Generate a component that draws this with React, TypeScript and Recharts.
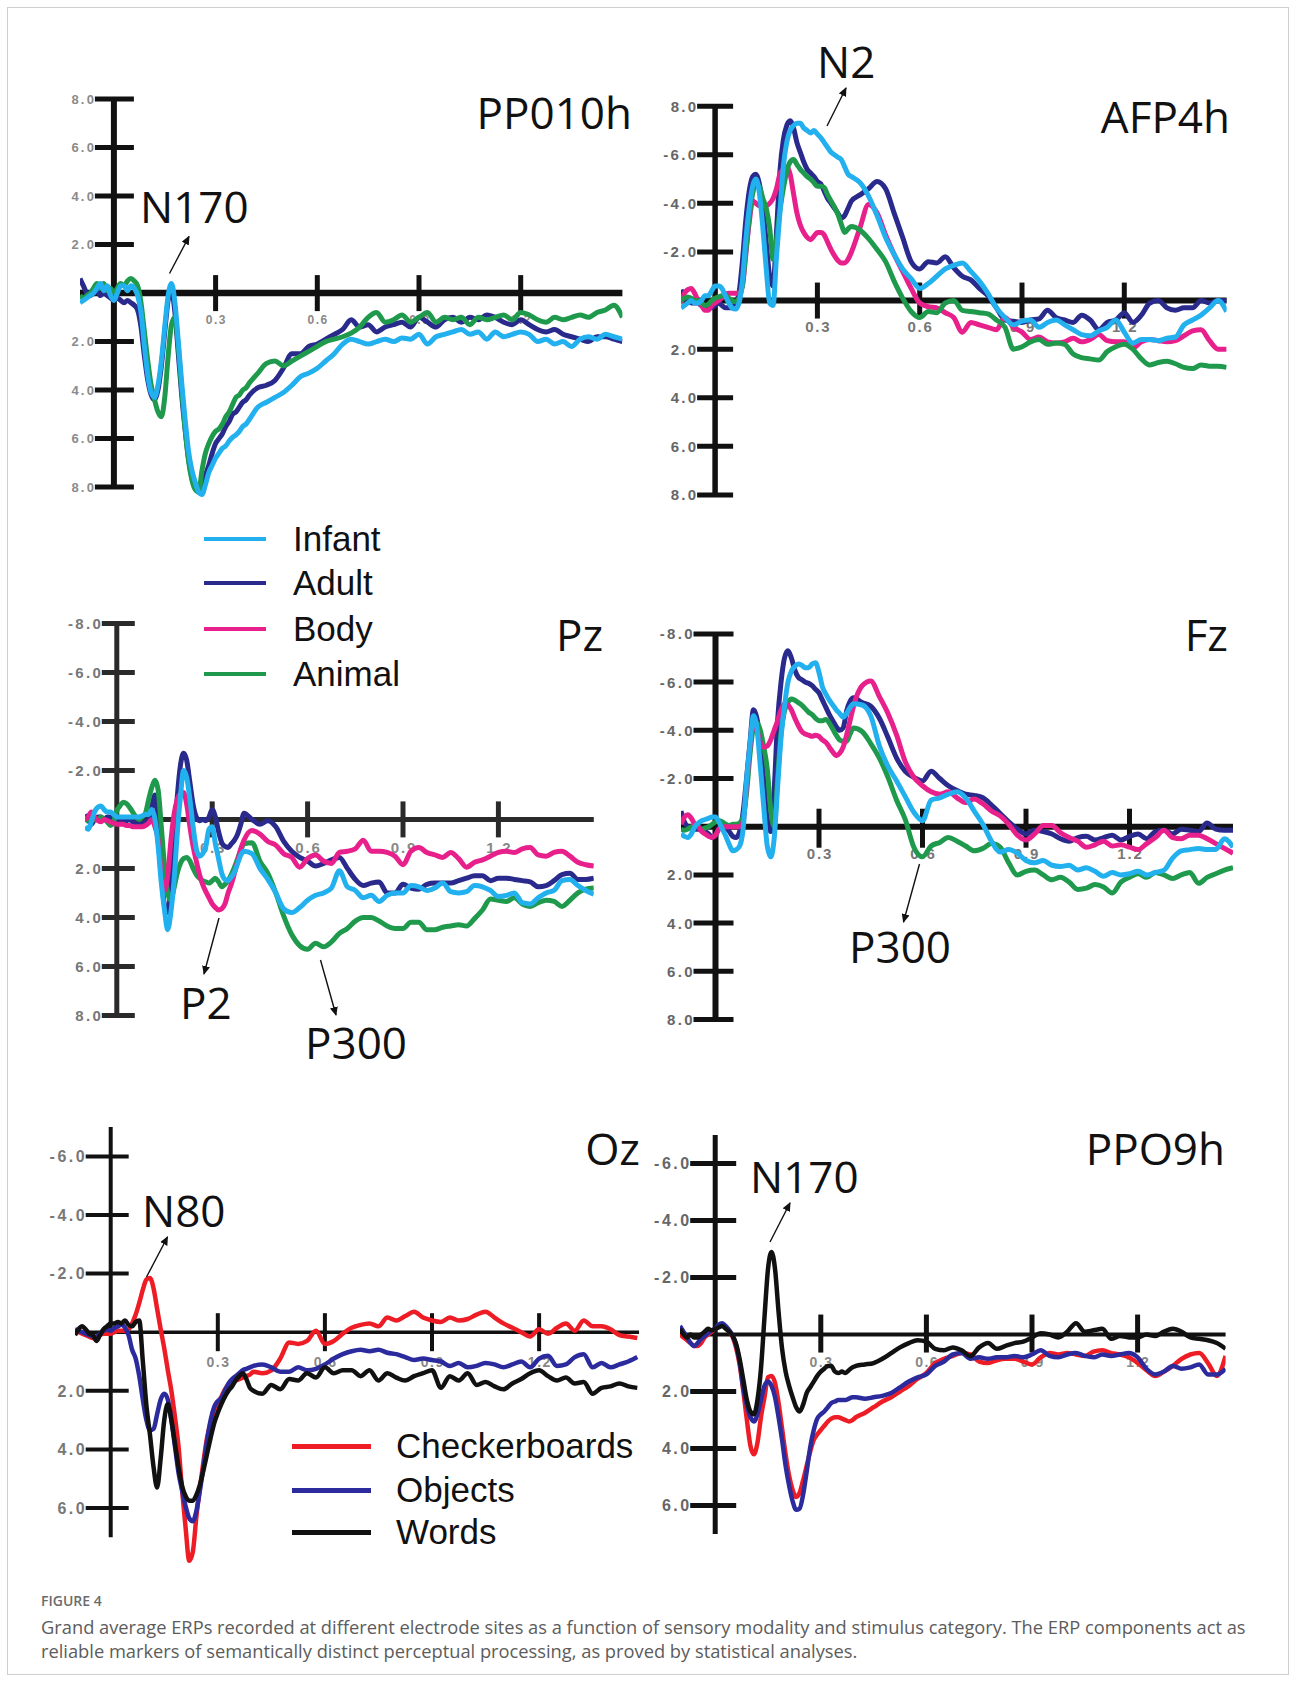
import React from "react";
import { LineChart, Line, XAxis, YAxis, ReferenceLine, ReferenceDot } from "recharts";

// sample times in seconds: 10 ms steps up to 0.4 s, 25 ms steps after
const TIME = [
  -0.1, -0.09, -0.08, -0.07, -0.06, -0.05, -0.04, -0.03, -0.02, -0.01,
  0, 0.01, 0.02, 0.03, 0.04, 0.05, 0.06, 0.07, 0.08, 0.09,
  0.1, 0.11, 0.12, 0.13, 0.14, 0.15, 0.16, 0.17, 0.18, 0.19,
  0.2, 0.21, 0.22, 0.23, 0.24, 0.25, 0.26, 0.27, 0.28, 0.29,
  0.3, 0.31, 0.32, 0.33, 0.34, 0.35, 0.36, 0.37, 0.38, 0.39,
  0.4,
  0.425, 0.45, 0.475, 0.5, 0.525, 0.55, 0.575, 0.6,
  0.625, 0.65, 0.675, 0.7, 0.725, 0.75, 0.775, 0.8,
  0.825, 0.85, 0.875, 0.9, 0.925, 0.95, 0.975, 1.0,
  1.025, 1.05, 1.075, 1.1, 1.125, 1.15, 1.175, 1.2,
  1.225, 1.25, 1.275, 1.3, 1.325, 1.35, 1.375, 1.4,
  1.425, 1.45, 1.475, 1.5, 1.525,
];

// amplitudes in µV (negative plotted upwards)
const PP010H_INFANT = [
  0.4, 0.3, 0.2, 0.1, 0.0, -0.2, -0.4, -0.1, -0.3, 0.1,
  0.3, 0.0, -0.3, -0.3, -0.1, -0.3, -0.2, 0.1, 0.8, 2.2,
  3.4, 4.1, 4.3, 3.8, 2.8, 1.4, 0.1, -0.4, 0.4, 2.0,
  3.7, 5.2, 6.5, 7.3, 7.8, 8.2, 8.3, 7.9, 7.4, 7.1,
  6.8, 6.6, 6.4, 6.3, 6.1, 5.95, 5.85, 5.7, 5.5, 5.4,
  5.2,
  4.7, 4.5, 4.3, 4.1, 3.8, 3.45, 3.3, 3.1,
  2.8, 2.5, 2.1, 1.9, 2.0, 2.1, 2.0, 1.9,
  2.0, 1.85, 1.9, 1.7, 2.1, 1.8, 1.7, 1.6,
  1.5, 1.7, 1.6, 1.9, 1.6, 1.8, 1.7, 1.6,
  1.7, 2.0, 1.9, 2.1, 2.0, 2.2, 1.9, 1.8,
  1.9, 1.7, 1.8, 1.9, 2.0,
];
const PP010H_ADULT = [
  -0.6, -0.3, 0.0, 0.1, 0.0, -0.1, 0.1, 0.0, 0.1, 0.2,
  0.3, 0.2, 0.3, 0.4, 0.3, 0.4, 0.5, 0.7, 1.4, 2.6,
  3.6, 4.2, 4.4, 4.0, 3.0, 1.6, 0.3, -0.1, 0.8, 2.5,
  4.2, 5.6, 6.8, 7.6, 8.0, 8.2, 8.0, 7.5, 7.1, 6.6,
  6.2, 6.0, 5.8, 5.5, 5.3, 5.0, 4.9, 4.7, 4.5, 4.4,
  4.2,
  3.9, 3.8, 3.6, 3.1, 2.5, 2.5, 2.2, 2.1,
  1.9, 1.7, 1.5, 1.1, 1.4, 1.3, 1.6, 1.4,
  1.3, 1.2, 1.4, 1.0, 1.2, 1.4, 1.1, 1.0,
  1.2, 1.0, 1.1, 0.9, 1.0, 1.2, 1.3, 1.1,
  1.3, 1.5, 1.6, 1.5, 1.7, 1.8, 1.9, 2.0,
  1.8, 1.8, 1.9, 2.0, 2.0,
];
const PP010H_ANIMAL = [
  0.1, 0.2, 0.1, 0.0, -0.2, -0.4, -0.2, -0.4, -0.1, -0.2,
  0.0, -0.2, -0.4, -0.3, -0.5, -0.6, -0.5, -0.3, 0.4, 1.6,
  2.8, 3.8, 4.4, 4.9, 5.1, 4.3, 2.6, 1.3, 1.0, 2.2,
  4.0, 5.6, 6.9, 7.7, 8.1, 8.2, 7.3, 6.6, 6.2, 5.9,
  5.7, 5.6, 5.4, 5.1, 4.9, 4.6, 4.3, 4.2, 4.0, 3.9,
  3.7,
  3.3, 2.9, 2.8, 3.0, 2.8, 2.6, 2.4, 2.2,
  2.0, 1.9, 1.8, 1.65, 1.4, 1.0, 0.8, 1.2,
  1.1, 0.9, 1.2, 1.0, 0.8, 1.2, 1.0, 1.1,
  1.0, 1.3, 1.0, 1.1, 1.0, 0.9, 1.1, 0.8,
  0.9, 1.1, 1.2, 1.0, 1.1, 1.0, 0.9, 1.0,
  0.8, 0.7, 0.5, 1.0, 1.1,
];

const AFP4H_INFANT = [
  0.3, 0.2, 0.1, 0.0, 0.1, 0.1, 0.0, -0.2, -0.2, -0.4,
  -0.6, -0.6, -0.5, -0.2, 0.1, 0.3, 0.35, 0.1, -0.8, -2.5,
  -3.8, -4.7, -5.0, -4.4, -3.0, -1.3, 0.1, 0.2, -1.8, -3.6,
  -5.5, -6.5, -7.0, -7.2, -7.3, -7.3, -7.1, -7.0, -6.9, -7.0,
  -6.85, -6.7, -6.5, -6.3, -6.1, -6.0, -5.9, -5.8, -5.5, -5.2,
  -5.1,
  -4.85, -4.3, -3.5, -2.6, -1.9, -1.3, -0.9, -0.5,
  -0.7, -1.0, -1.3, -1.45, -1.55, -1.2, -0.8, -0.3,
  0.3, 0.7, 1.0, 0.85, 0.8, 1.1, 0.9, 0.8,
  1.0, 1.2, 1.4, 1.45, 1.25, 1.1, 0.8, 1.3,
  1.75, 1.6, 1.6, 1.65, 1.55, 1.5, 1.0, 0.8,
  0.6, 0.3, 0.0, 0.45, 0.5,
];
const AFP4H_ADULT = [
  -0.45, -0.1, 0.0, 0.1, 0.1, 0.1, 0.2, 0.2, 0.3, 0.3,
  0.2, 0.1, 0.2, 0.3, 0.3, 0.3, 0.1, -0.3, -1.6, -3.3,
  -4.5, -5.1, -5.2, -4.8, -3.8, -2.4, -1.0, -0.6, -2.8, -5.3,
  -6.6, -7.2, -7.4, -7.1, -6.5, -6.1, -5.7, -5.4, -5.25, -5.1,
  -4.9, -4.8, -4.5, -4.2, -4.0, -3.8, -3.6, -3.4, -3.5, -3.8,
  -4.1,
  -4.35, -4.6, -4.9, -4.6, -3.6, -2.6, -1.6, -1.3,
  -1.6, -1.55, -1.8, -1.35, -1.0, -0.85, -0.5, -0.2,
  0.3, 0.8, 0.85, 0.9, 0.8, 0.75, 0.4, 0.7,
  0.8, 0.9, 0.6, 0.8, 1.2, 0.9, 0.8, 0.5,
  0.9, 0.6, 0.1, 0.0, 0.3, 0.4, 0.3, 0.3,
  0.0, 0.1, 0.0, 0.0, 0.0,
];
const AFP4H_BODY = [
  0.1, -0.3, -0.45, -0.5, -0.3, 0.0, 0.2, 0.4, 0.4, 0.2,
  0.1, 0.0, -0.1, -0.25, -0.3, -0.3, -0.3, -0.3, -0.6, -1.9,
  -3.2, -4.1, -4.0, -3.9, -3.9, -3.9, -4.0, -4.2, -4.6, -5.2,
  -5.4, -5.5, -5.2, -4.4, -3.6, -3.1, -2.8, -2.6, -2.5, -2.65,
  -2.8, -2.8, -2.7, -2.4, -2.1, -1.85, -1.65, -1.55, -1.55, -1.7,
  -2.0,
  -3.0, -3.95, -3.6, -2.7, -1.9, -1.2, -0.5, 0.1,
  0.25, 0.3, 0.5, 0.7, 1.3, 0.9, 1.0, 1.1,
  1.2, 0.7, 1.1, 1.3, 1.6, 1.5, 1.7, 1.75,
  1.7, 1.55, 1.7, 1.6, 1.4, 1.65, 1.7, 1.7,
  1.95, 1.7, 1.6, 1.65, 1.7, 1.65, 1.45, 1.25,
  1.2, 1.65, 2.0, 2.0, 2.0,
];
const AFP4H_ANIMAL = [
  0.0, -0.1, -0.15, -0.1, 0.0, 0.0, 0.1, 0.2, 0.15, 0.0,
  -0.1, -0.15, -0.2, -0.2, -0.1, 0.0, 0.05, -0.1, -0.6, -2.0,
  -3.4, -4.4, -4.8, -4.7, -4.2, -3.8, -3.0, -1.7, -2.5, -3.7,
  -4.6, -5.3, -5.7, -5.8, -5.6, -5.4, -5.25, -5.1, -5.0, -4.85,
  -4.7, -4.7, -4.65, -4.35, -4.1, -3.85, -3.55, -3.15, -2.8, -2.95,
  -3.05,
  -2.9, -2.55, -2.1, -1.6, -0.8, -0.1, 0.45, 0.7,
  0.45, 0.5, 0.1, 0.0, 0.4, 0.45, 0.5, 0.55,
  0.8, 1.1, 2.0, 1.9, 1.7, 1.6, 1.8, 1.75,
  1.8, 2.2, 2.35, 2.4, 2.45, 2.1, 1.9, 1.8,
  2.0, 2.4, 2.65, 2.55, 2.5, 2.6, 2.75, 2.8,
  2.65, 2.7, 2.7, 2.75, 2.7,
];

const PZ_INFANT = [
  0.3, 0.4, 0.1, -0.3, -0.5, -0.55, -0.4, -0.3, -0.3, -0.2,
  -0.1, -0.1, -0.1, -0.1, -0.1, -0.1, -0.1, -0.1, -0.15, -0.2,
  -0.2, -0.4, 0.0, 1.1, 2.6, 3.7, 4.5, 3.8, 2.5, 0.6,
  -0.9, -2.0, -1.7, -0.8, 0.3, 1.2, 1.5, 1.4, 1.1, 0.4,
  0.3, 1.0, 1.6, 2.2, 2.45, 2.5, 2.35, 2.15, 1.8, 1.45,
  1.3,
  1.4, 2.0, 2.45, 3.0, 3.65, 3.8, 3.6, 3.3,
  3.1, 3.0, 2.8, 2.1, 2.75, 2.9, 3.2, 3.1,
  3.35, 3.1, 3.0, 3.0, 2.7, 2.75, 2.9, 2.8,
  2.6, 2.95, 3.0, 2.95, 2.7, 2.75, 2.9, 3.15,
  3.1, 3.0, 3.4, 3.45, 3.2, 3.0, 2.9, 2.5,
  2.45, 2.7, 2.9, 3.05, 3.05,
];
const PZ_ADULT = [
  -0.2, 0.0, 0.2, 0.0, -0.1, -0.1, 0.0, -0.1, -0.1, 0.0,
  0.1, 0.05, 0.0, 0.05, 0.0, 0.1, 0.15, 0.2, 0.2, 0.1,
  0.0, -0.5, -1.0, 0.2, 2.2, 3.5, 3.8, 2.8, 0.9, -0.9,
  -2.2, -2.7, -2.4, -1.5, -0.6, -0.1, 0.05, 0.0, 0.05, -0.1,
  -0.4, -0.1, 0.5, 0.95, 1.1, 1.15, 1.0, 0.85, 0.6, 0.2,
  -0.25,
  0.0, 0.2, 0.05, 0.3, 0.9, 1.3, 1.55, 1.7,
  1.9, 1.8, 1.65, 1.55, 2.0, 2.45, 2.7, 2.6,
  2.55, 3.0, 3.0, 2.65, 2.8, 2.85, 2.65, 2.6,
  2.6, 2.6, 2.5, 2.4, 2.3, 2.3, 2.5, 2.4,
  2.4, 2.45, 2.5, 2.55, 2.75, 2.7, 2.5, 2.25,
  2.2, 2.45, 2.45, 2.4, 2.4,
];
const PZ_BODY = [
  0.0, -0.1, -0.3, -0.1, 0.05, 0.1, 0.0, 0.05, 0.1, 0.15,
  0.2, 0.2, 0.2, 0.25, 0.25, 0.3, 0.3, 0.3, 0.3, 0.25,
  0.15, 0.0, 0.3, 0.85, 2.3, 2.9, 2.3, 0.9, -0.2, -0.8,
  -1.05, -1.1, -0.6, 0.3, 1.1, 1.7, 2.25, 2.65, 2.95, 3.2,
  3.45, 3.6, 3.7, 3.65, 3.45, 3.0, 2.65, 2.2, 1.7, 1.2,
  0.85,
  0.45, 0.6, 0.9, 1.05, 1.4, 1.55, 1.95, 1.6,
  1.45, 1.7, 1.8, 1.35, 1.3, 1.2, 0.85, 1.3,
  1.3, 1.35, 1.5, 1.85, 1.3, 1.15, 1.35, 1.45,
  1.55, 1.35, 1.6, 1.95, 1.75, 1.65, 1.5, 1.35,
  1.3, 1.35, 1.2, 1.15, 1.45, 1.5, 1.35, 1.3,
  1.5, 1.75, 1.85, 1.9, 1.9,
];
const PZ_ANIMAL = [
  0.1, 0.0, 0.05, 0.0, 0.0, -0.1, 0.0, 0.1, 0.25, 0.1,
  -0.35, -0.55, -0.7, -0.65, -0.5, -0.3, -0.1, 0.0, -0.1, -0.25,
  -0.8, -1.3, -1.6, -1.2, 0.3, 1.9, 3.0, 3.3, 2.8, 2.2,
  1.8, 1.6, 1.55, 1.7, 2.0, 2.25, 2.4, 2.5, 2.55, 2.6,
  2.5, 2.4, 2.55, 2.75, 2.65, 2.5, 2.25, 1.95, 1.6, 1.25,
  1.0,
  0.95, 1.7, 2.2, 3.0, 3.95, 4.7, 5.15, 5.3,
  5.05, 5.2, 5.0, 4.65, 4.45, 4.15, 4.0, 4.0,
  4.15, 4.35, 4.45, 4.45, 4.2, 4.2, 4.5, 4.5,
  4.4, 4.35, 4.3, 4.35, 4.05, 3.7, 3.25, 3.3,
  3.35, 3.2, 3.45, 3.55, 3.4, 3.3, 3.35, 3.55,
  3.3, 3.0, 2.85, 2.8, 2.8,
];

const FZ_INFANT = [
  0.3, 0.4, 0.45, 0.3, 0.0, -0.15, -0.25, -0.3, -0.35, -0.4,
  -0.4, -0.2, 0.1, 0.4, 0.75, 1.0, 0.95, 0.8, 0.1, -1.9,
  -3.4, -4.6, -4.1, -2.5, -0.8, 0.8, 1.25, 0.5, -1.65, -3.7,
  -5.0, -6.0, -6.45, -6.65, -6.75, -6.7, -6.6, -6.6, -6.75, -6.8,
  -6.4, -5.8, -5.5, -5.25, -5.05, -4.85, -4.7, -4.55, -4.7, -4.95,
  -5.1,
  -5.05, -4.6, -3.35, -2.5, -1.9, -1.25, -0.6, -0.25,
  -1.1, -1.2, -1.35, -1.45, -1.2, -0.65, -0.1, 0.6,
  1.05, 0.95, 1.1, 1.4, 1.5, 1.4, 1.6, 1.65,
  1.6, 1.8, 1.7, 1.85, 2.05, 1.9, 2.0, 1.95,
  1.85, 2.0, 1.9, 1.8, 1.3, 1.0, 0.95, 0.9,
  0.95, 0.95, 0.5, 0.85, 0.9,
];
const FZ_ADULT = [
  -0.65, -0.2, 0.0, 0.05, 0.1, 0.1, 0.15, 0.2, 0.3, 0.45,
  0.35, 0.05, 0.0, 0.05, 0.2, 0.4, 0.45, 0.2, -0.6, -2.0,
  -3.5, -4.85, -4.5, -3.5, -1.9, -0.3, 0.2, -1.5, -4.4, -6.0,
  -7.0, -7.3, -7.0, -6.5, -6.2, -6.1, -6.0, -5.95, -5.85, -5.7,
  -5.55, -5.25, -4.95, -4.65, -4.4, -4.15, -4.0, -4.1, -4.8, -5.2,
  -5.35,
  -5.15, -5.0, -4.5, -3.7, -2.85, -2.3, -2.05, -1.9,
  -2.3, -2.0, -1.7, -1.5, -1.35, -1.3, -1.2, -0.9,
  -0.55, -0.2, 0.1, 0.3, 0.15, 0.2, 0.3, 0.5,
  0.6, 0.45, 0.4, 0.55, 0.45, 0.35, 0.55, 0.4,
  0.3, 0.5, 0.2, 0.15, 0.3, 0.1, 0.15, 0.2,
  -0.15, 0.1, 0.15, 0.15, 0.15,
];
const FZ_BODY = [
  -0.1, -0.4, -0.5, -0.35, -0.1, 0.0, 0.2, 0.3, 0.4, 0.45,
  0.35, 0.1, 0.0, 0.0, 0.0, 0.0, 0.0, 0.0, -0.2, -1.7,
  -3.3, -4.3, -4.0, -3.5, -3.3, -3.35, -3.6, -4.0, -4.4, -4.85,
  -5.1, -5.05, -4.85, -4.5, -4.2, -3.95, -3.85, -3.8, -3.75, -3.8,
  -3.75, -3.6, -3.5, -3.3, -3.1, -2.95, -3.05, -3.3, -3.8, -4.4,
  -5.0,
  -5.85, -6.05, -5.4, -4.7, -3.8, -2.7, -2.05, -1.7,
  -1.45, -1.35, -1.45, -1.2, -1.0, -1.15, -0.95, -0.65,
  -0.45, -0.1, 0.35, 0.55, 0.3, -0.05, -0.05, 0.25,
  0.45, 0.6, 0.85, 0.75, 0.6, 0.8, 0.75, 0.85,
  0.95, 0.7, 0.45, 0.15, 0.45, 0.5, 0.35, 0.35,
  0.5, 0.7, 0.9, 1.1, 1.1,
];
const FZ_ANIMAL = [
  0.1, 0.15, 0.1, 0.0, -0.05, 0.0, 0.1, 0.05, 0.0, -0.1,
  -0.2, -0.25, -0.2, -0.1, -0.05, -0.1, -0.1, -0.15, -0.4, -1.4,
  -3.0, -4.1, -4.3, -4.0, -3.3, -2.4, -0.7, 0.0, -2.0, -3.9,
  -4.8, -5.15, -5.3, -5.25, -5.15, -5.05, -4.9, -4.75, -4.65, -4.5,
  -4.4, -4.4, -4.45, -4.3, -4.05, -3.8, -3.6, -3.55, -3.55, -3.85,
  -4.1,
  -3.95, -3.45, -2.85, -2.05, -1.1, -0.3, 0.85, 1.25,
  0.8, 0.65, 0.45, 0.6, 0.8, 1.0, 0.9, 0.7,
  0.85, 1.5, 2.0, 1.85, 1.8, 2.0, 2.2, 2.1,
  2.3, 2.6, 2.55, 2.4, 2.5, 2.75, 2.3, 2.1,
  1.95, 2.1, 1.9, 2.0, 2.15, 2.0, 1.9, 2.35,
  2.1, 1.95, 1.8, 1.7, 1.7,
];

const OZ_CHECKER = [
  -0.1, 0.0, 0.05, 0.1, 0.15, 0.2, 0.17, 0.1, 0.05, 0.05,
  0.05, 0.0, -0.05, -0.05, -0.05, -0.1, -0.3, -0.6, -1.0, -1.45,
  -1.8, -1.85, -1.5, -0.8, -0.1, 0.55, 1.3, 2.0, 2.9, 3.9,
  5.4, 6.7, 7.8, 7.5, 6.3, 5.3, 4.4, 3.6, 3.1, 2.7,
  2.45, 2.2, 1.95, 1.8, 1.7, 1.65, 1.6, 1.55, 1.5, 1.45,
  1.35,
  1.4, 1.3, 0.9, 0.35, 0.4, 0.3, -0.05, 0.4,
  0.3, 0.05, -0.15, -0.25, -0.3, -0.2, -0.5, -0.4,
  -0.55, -0.7, -0.5, -0.4, -0.35, -0.5, -0.4, -0.45,
  -0.6, -0.7, -0.5, -0.3, -0.15, 0.0, 0.15, -0.1,
  0.05, -0.15, -0.3, -0.05, -0.4, -0.2, -0.2, -0.1,
  0.1, 0.15, 0.2, 0.2, 0.2,
];
const OZ_OBJECTS = [
  -0.1, -0.05, 0.0, 0.05, 0.1, 0.15, 0.15, 0.05, -0.05, -0.1,
  -0.05, -0.15, -0.2, -0.25, -0.15, 0.1, 0.6, 0.9, 1.5, 2.3,
  3.0, 3.35, 3.3, 2.8, 2.3, 2.1, 2.3, 3.0, 3.9, 4.8,
  5.4, 5.95, 6.35, 6.45, 6.1, 5.4, 4.6, 3.7, 3.0, 2.55,
  2.35, 2.25, 2.0, 1.75, 1.6, 1.5, 1.4, 1.3, 1.25, 1.2,
  1.15,
  1.1, 1.2, 1.35, 1.35, 1.2, 1.3, 1.25, 1.1,
  0.9, 0.75, 0.65, 0.6, 0.65, 0.6, 0.7, 0.75,
  0.85, 0.95, 0.9, 0.95, 1.0, 1.15, 1.05, 1.2,
  1.15, 1.05, 1.1, 1.2, 1.1, 1.0, 1.2, 0.9,
  0.8, 1.15, 1.1, 0.85, 0.75, 1.2, 1.05, 1.2,
  1.1, 1.0, 0.85, 1.2, 1.2,
];
const OZ_WORDS = [
  0.1, -0.1, -0.2, -0.1, 0.05, 0.1, 0.3, 0.1, -0.1, -0.2,
  -0.3, -0.3, -0.35, -0.3, -0.4, -0.25, -0.2, -0.35, -0.4, 1.0,
  2.5, 3.5, 4.6, 5.3, 4.3, 3.0, 2.45, 3.0, 3.8, 4.6,
  5.25, 5.6, 5.75, 5.75, 5.55, 5.2, 4.7, 4.15, 3.6, 3.1,
  2.75, 2.45, 2.2, 2.0, 1.85, 1.65, 1.5, 1.4, 1.6, 1.9,
  2.0,
  2.1, 1.8, 1.95, 1.6, 1.65, 1.4, 1.55, 1.2,
  1.4, 1.3, 1.3, 1.5, 1.3, 1.65, 1.4, 1.55,
  1.65, 1.5, 1.4, 1.3, 1.9, 1.5, 1.65, 1.4,
  1.8, 1.7, 1.85, 1.95, 1.75, 1.6, 1.4, 1.3,
  1.5, 1.65, 1.55, 1.75, 1.7, 2.1, 1.9, 1.85,
  1.75, 1.85, 1.9, 1.9, 1.9,
];

const PPO9H_CHECKER = [
  0.0, 0.1, 0.2, 0.3, 0.4, 0.4, 0.3, 0.1, 0.0, -0.1,
  -0.2, -0.3, -0.35, -0.25, -0.1, 0.1, 0.5, 1.1, 2.0, 3.0,
  3.9, 4.2, 3.8, 2.9, 2.2, 1.5, 1.45, 1.7, 2.4, 3.3,
  4.2, 4.95, 5.45, 5.7, 5.55, 5.1, 4.6, 4.1, 3.7, 3.5,
  3.35, 3.2, 3.05, 2.95, 2.9, 2.9, 2.95, 3.0, 3.05, 3.0,
  2.9,
  2.75, 2.55, 2.35, 2.2, 2.0, 1.8, 1.55, 1.35,
  1.0, 0.85, 0.75, 0.65, 0.7, 0.95, 1.0, 0.9,
  0.85, 0.85, 0.95, 1.05, 0.8, 0.65, 0.7, 0.65,
  0.7, 0.75, 0.6, 0.55, 0.65, 0.7, 0.8, 1.0,
  1.25, 1.45, 1.3, 1.1, 0.85, 0.7, 0.65, 1.0,
  1.45, 0.75, 0.75, 0.75, 0.75,
];
const PPO9H_OBJECTS = [
  -0.3, -0.1, 0.1, 0.3, 0.4, 0.3, 0.15, 0.05, -0.05, -0.15,
  -0.2, -0.35, -0.4, -0.3, -0.15, 0.05, 0.4, 1.0, 1.9, 2.5,
  2.9, 3.05, 2.8, 2.3, 1.8, 1.65, 1.8, 2.2, 2.9, 3.7,
  4.6, 5.3, 5.85, 6.15, 6.1, 5.6, 4.8, 3.95, 3.35, 2.95,
  2.8, 2.7, 2.55, 2.4, 2.35, 2.3, 2.3, 2.3, 2.25, 2.2,
  2.2,
  2.25, 2.2, 2.15, 2.05, 1.85, 1.65, 1.5, 1.4,
  1.1, 0.95, 0.7, 0.65, 0.85, 0.8, 0.85, 0.8,
  0.8, 0.75, 0.8, 0.7, 0.55, 0.75, 0.8, 0.7,
  0.65, 0.75, 0.8, 0.7, 0.75, 0.7, 0.65, 0.8,
  1.2, 1.4, 1.3, 1.1, 1.2, 1.15, 1.05, 1.4,
  1.4, 1.2, 1.2, 1.2, 1.2,
];
const PPO9H_WORDS = [
  -0.2, 0.0, 0.1, 0.0, 0.1, 0.1, 0.0, -0.1, -0.2, -0.15,
  -0.2, -0.25, -0.3, -0.2, -0.1, 0.05, 0.35, 0.9, 1.6, 2.3,
  2.7, 2.8, 2.3, 1.2, -0.6, -2.3, -2.9, -2.3, -0.8, 0.5,
  1.3, 1.8, 2.2, 2.55, 2.7, 2.45, 2.05, 1.85, 1.65, 1.45,
  1.3, 1.2, 1.1, 1.1, 1.3, 1.35, 1.3, 1.35, 1.25, 1.15,
  1.1,
  1.05, 1.0, 0.85, 0.65, 0.45, 0.3, 0.2, 0.25,
  0.5, 0.55, 0.45, 0.55, 0.75, 0.45, 0.3, 0.5,
  0.4, 0.3, 0.25, 0.1, -0.05, 0.0, 0.1, -0.1,
  -0.4, -0.1, -0.15, -0.2, 0.15, 0.05, 0.1, 0.1,
  0.0, 0.05, -0.1, -0.2, -0.1, 0.1, 0.15, 0.2,
  0.3, 0.5, 0.5, 0.5, 0.5,
];

// axis ticks and their printed labels
const X_TICKS = [0.3, 0.6, 0.9, 1.2];
const X_LABELS = ["0.3", "0.6", "0.9", "1.2"];
const Y_TICKS_8 = [-8, -6, -4, -2, 2, 4, 6, 8];
const Y_TICKS_6 = [-6, -4, -2, 2, 4, 6];
const PP010H_Y_LABELS = ["8.0", "6.0", "4.0", "2.0", "2.0", "4.0", "6.0", "8.0"];
const AFP4H_Y_LABELS = ["8.0", "-6.0", "-4.0", "-2.0", "2.0", "4.0", "6.0", "8.0"];
const MID_Y_LABELS = ["-8.0", "-6.0", "-4.0", "-2.0", "2.0", "4.0", "6.0", "8.0"];
const LOW_Y_LABELS = ["-6.0", "-4.0", "-2.0", "2.0", "4.0", "6.0"];

const FACE_LEGEND = ["Infant", "Adult", "Body", "Animal"];
const VISUAL_LEGEND = ["Checkerboards", "Objects", "Words"];

const C = {
  infant: "#22b0ee",
  adult: "#2a2a8c",
  body: "#e8208c",
  animal: "#1f9a4c",
  checker: "#ee1d25",
  objects: "#2b2b9e",
  words: "#111111",
};

type Series = { key: string; color: string; values: number[] };

type LabelStyle = { size: number; spacing: number; color: string };

type PanelCfg = {
  originX: number;
  originY: number;
  pxPerSec: number;
  pxPerUnit: number;
  xDomain: [number, number];
  yRange: [number, number];
  yPad: number;
  yTicks: number[];
  yLabels: string[];
  xAxisW: number;
  yAxisW: number;
  tickW: number;
  yTickSpan: [number, number];
  xTickSpan: [number, number];
  yLabel: LabelStyle;
  xLabel: LabelStyle;
  xLabelOffset: number;
  axisColor: string;
  lineW: number;
  series: Series[];
};

const PANELS: PanelCfg[] = [
  {
    // PP010h
    originX: 114, originY: 293.5, pxPerSec: 339, pxPerUnit: 24.25,
    xDomain: [-0.1, 1.5], yRange: [-8, 8], yPad: 1.2,
    yTicks: Y_TICKS_8, yLabels: PP010H_Y_LABELS,
    xAxisW: 6.5, yAxisW: 6, tickW: 5, yTickSpan: [-19, 20], xTickSpan: [-18, 18],
    yLabel: { size: 13, spacing: 2.2, color: "#8a8a8a" },
    xLabel: { size: 12, spacing: 1.5, color: "#8a8a8a" },
    xLabelOffset: 27,
    axisColor: "#111", lineW: 5,
    series: [
      { key: "adult", color: C.adult, values: PP010H_ADULT },
      { key: "animal", color: C.animal, values: PP010H_ANIMAL },
      { key: "infant", color: C.infant, values: PP010H_INFANT },
    ],
  },
  {
    // AFP4h
    originX: 715, originY: 301, pxPerSec: 341, pxPerUnit: 24.3,
    xDomain: [-0.1, 1.5], yRange: [-8, 8], yPad: 1.2,
    yTicks: Y_TICKS_8, yLabels: AFP4H_Y_LABELS,
    xAxisW: 6, yAxisW: 5.5, tickW: 5, yTickSpan: [-18, 18], xTickSpan: [-18, 18],
    yLabel: { size: 15, spacing: 2.3, color: "#666" },
    xLabel: { size: 15, spacing: 1.8, color: "#777" },
    xLabelOffset: 26,
    axisColor: "#111", lineW: 5,
    series: [
      { key: "adult", color: C.adult, values: AFP4H_ADULT },
      { key: "body", color: C.body, values: AFP4H_BODY },
      { key: "animal", color: C.animal, values: AFP4H_ANIMAL },
      { key: "infant", color: C.infant, values: AFP4H_INFANT },
    ],
  },
  {
    // Pz
    originX: 117.2, originY: 819, pxPerSec: 318, pxPerUnit: 24.5,
    xDomain: [-0.1, 1.5], yRange: [-8, 8], yPad: 1.2,
    yTicks: Y_TICKS_8, yLabels: MID_Y_LABELS,
    xAxisW: 5, yAxisW: 5, tickW: 5, yTickSpan: [-15, 18], xTickSpan: [-18, 18],
    yLabel: { size: 15, spacing: 2.3, color: "#777" },
    xLabel: { size: 15, spacing: 1.8, color: "#888" },
    xLabelOffset: 28,
    axisColor: "#2a2a2a", lineW: 5,
    series: [
      { key: "adult", color: C.adult, values: PZ_ADULT },
      { key: "animal", color: C.animal, values: PZ_ANIMAL },
      { key: "body", color: C.body, values: PZ_BODY },
      { key: "infant", color: C.infant, values: PZ_INFANT },
    ],
  },
  {
    // Fz
    originX: 715, originY: 826.5, pxPerSec: 345, pxPerUnit: 24.1,
    xDomain: [-0.1, 1.5], yRange: [-8, 8], yPad: 1.2,
    yTicks: Y_TICKS_8, yLabels: MID_Y_LABELS,
    xAxisW: 6, yAxisW: 6, tickW: 5, yTickSpan: [-22, 18], xTickSpan: [-18, 21],
    yLabel: { size: 15, spacing: 2.3, color: "#666" },
    xLabel: { size: 15, spacing: 1.8, color: "#777" },
    xLabelOffset: 27,
    axisColor: "#111", lineW: 5,
    series: [
      { key: "adult", color: C.adult, values: FZ_ADULT },
      { key: "animal", color: C.animal, values: FZ_ANIMAL },
      { key: "body", color: C.body, values: FZ_BODY },
      { key: "infant", color: C.infant, values: FZ_INFANT },
    ],
  },
  {
    // Oz
    originX: 111, originY: 1332, pxPerSec: 357, pxPerUnit: 29.3,
    xDomain: [-0.1, 1.48], yRange: [-7, 7], yPad: 1.3,
    yTicks: Y_TICKS_6, yLabels: LOW_Y_LABELS,
    xAxisW: 3.5, yAxisW: 4, tickW: 4, yTickSpan: [-25, 18], xTickSpan: [-19, 19],
    yLabel: { size: 16, spacing: 2.5, color: "#777" },
    xLabel: { size: 14, spacing: 1.5, color: "#888" },
    xLabelOffset: 30,
    axisColor: "#111", lineW: 4.5,
    series: [
      { key: "checker", color: C.checker, values: OZ_CHECKER },
      { key: "objects", color: C.objects, values: OZ_OBJECTS },
      { key: "words", color: C.words, values: OZ_WORDS },
    ],
  },
  {
    // PPO9h
    originX: 715, originY: 1335, pxPerSec: 352, pxPerUnit: 28.5,
    xDomain: [-0.1, 1.45], yRange: [-7, 7], yPad: 1.3,
    yTicks: Y_TICKS_6, yLabels: LOW_Y_LABELS,
    xAxisW: 4, yAxisW: 5, tickW: 5, yTickSpan: [-25, 21], xTickSpan: [-20, 18],
    yLabel: { size: 16, spacing: 2.5, color: "#666" },
    xLabel: { size: 14, spacing: 1.5, color: "#888" },
    xLabelOffset: 27,
    axisColor: "#111", lineW: 4.5,
    series: [
      { key: "checker", color: C.checker, values: PPO9H_CHECKER },
      { key: "objects", color: C.objects, values: PPO9H_OBJECTS },
      { key: "words", color: C.words, values: PPO9H_WORDS },
    ],
  },
];

const M = { top: 16, right: 16, bottom: 60, left: 80 };
const TICK_FONT = "'Liberation Sans', Arial, sans-serif";

// tick mark crossing the vertical axis, label on its left
function YTickMark({ cx, cy, cfg, label }: { cx: number; cy: number; cfg: PanelCfg; label: string }) {
  const [a, b] = cfg.yTickSpan;
  const st = cfg.yLabel;
  return (
    <g>
      <line x1={cx + a} x2={cx + b} y1={cy} y2={cy} stroke={cfg.axisColor} strokeWidth={cfg.tickW} />
      <text
        x={cx + a + st.spacing - 1}
        y={cy}
        dy="0.36em"
        textAnchor="end"
        fontFamily={TICK_FONT}
        fontWeight={700}
        fontSize={st.size}
        letterSpacing={st.spacing}
        fill={st.color}
      >
        {label}
      </text>
    </g>
  );
}

// tick mark crossing the time axis, label underneath
function XTickMark({ cx, cy, cfg, label }: { cx: number; cy: number; cfg: PanelCfg; label: string }) {
  const [a, b] = cfg.xTickSpan;
  const st = cfg.xLabel;
  return (
    <g>
      <line x1={cx} x2={cx} y1={cy + a} y2={cy + b} stroke={cfg.axisColor} strokeWidth={cfg.tickW} />
      <text
        x={cx + st.spacing / 2}
        y={cy + cfg.xLabelOffset}
        dy="0.36em"
        textAnchor="middle"
        fontFamily={TICK_FONT}
        fontWeight={700}
        fontSize={st.size}
        letterSpacing={st.spacing}
        fill={st.color}
      >
        {label}
      </text>
    </g>
  );
}

function Panel({ cfg }: { cfg: PanelCfg }) {
  const [x0, x1] = cfg.xDomain;
  const y0 = cfg.yRange[0] - cfg.yPad;
  const y1 = cfg.yRange[1] + cfg.yPad;
  const plotW = (x1 - x0) * cfg.pxPerSec;
  const plotH = (y1 - y0) * cfg.pxPerUnit;
  const width = Math.round(plotW + M.left + M.right);
  const height = Math.round(plotH + M.top + M.bottom);
  const margin = { top: M.top, left: M.left, right: width - M.left - plotW, bottom: height - M.top - plotH };
  const zeroX = M.left - x0 * cfg.pxPerSec;
  const zeroY = M.top - y0 * cfg.pxPerUnit;

  const data = TIME.map((t, i) => {
    const row: Record<string, number> = { t };
    cfg.series.forEach((s) => {
      row[s.key] = s.values[i];
    });
    return row;
  }).filter((r) => r.t <= x1 + 1e-9);

  const xProps = { dataKey: "t", type: "number" as const, domain: [x0, x1], allowDataOverflow: true };
  const yProps = { type: "number" as const, domain: [y0, y1], reversed: true, allowDataOverflow: true };

  return (
    <div
      style={{
        position: "absolute",
        left: cfg.originX - zeroX,
        top: cfg.originY - zeroY,
        width,
        height,
      }}
    >
      {/* axes layer */}
      <div style={{ position: "absolute", left: 0, top: 0 }}>
        <LineChart width={width} height={height} data={data} margin={margin}>
          <XAxis {...xProps} hide />
          <YAxis {...yProps} hide />
          <ReferenceLine y={0} stroke={cfg.axisColor} strokeWidth={cfg.xAxisW} />
          <ReferenceLine
            segment={[
              { x: 0, y: cfg.yRange[0] },
              { x: 0, y: cfg.yRange[1] },
            ]}
            stroke={cfg.axisColor}
            strokeWidth={cfg.yAxisW}
          />
          {cfg.yTicks.map((v, i) => (
            <ReferenceDot
              key={`y${v}`}
              x={0}
              y={v}
              r={1}
              shape={(p: any) => <YTickMark cx={p.cx} cy={p.cy} cfg={cfg} label={cfg.yLabels[i]} />}
            />
          ))}
          {X_TICKS.map((v, i) => (
            <ReferenceDot
              key={`x${v}`}
              x={v}
              y={0}
              r={1}
              shape={(p: any) => <XTickMark cx={p.cx} cy={p.cy} cfg={cfg} label={X_LABELS[i]} />}
            />
          ))}
        </LineChart>
      </div>
      {/* waveform layer */}
      <div style={{ position: "absolute", left: 0, top: 0 }}>
        <LineChart width={width} height={height} data={data} margin={margin}>
          <XAxis {...xProps} hide />
          <YAxis {...yProps} hide />
          {cfg.series.map((s) => (
            <Line
              key={s.key}
              dataKey={s.key}
              type="monotone"
              stroke={s.color}
              strokeWidth={cfg.lineW}
              dot={false}
              activeDot={false}
              isAnimationActive={false}
            />
          ))}
        </LineChart>
      </div>
    </div>
  );
}

function Legend({
  labels,
  colors,
  ys,
  x1,
  x2,
  textX,
  lineW,
}: {
  labels: string[];
  colors: string[];
  ys: number[];
  x1: number;
  x2: number;
  textX: number;
  lineW: number;
}) {
  return (
    <>
      {labels.map((label, i) => (
        <React.Fragment key={label}>
          <div
            style={{
              position: "absolute",
              left: x1,
              top: ys[i] - lineW / 2,
              width: x2 - x1,
              height: lineW,
              background: colors[i],
            }}
          />
          <div
            style={{
              position: "absolute",
              left: textX,
              top: ys[i] - 20,
              font: "35px 'Liberation Sans', Arial, sans-serif",
              lineHeight: "40px",
              color: "#111",
              whiteSpace: "nowrap",
            }}
          >
            {label}
          </div>
        </React.Fragment>
      ))}
    </>
  );
}

const NOTE_FONT = "'Open Sans', 'Noto Sans', sans-serif";

function Note({ x, y, anchor = "start", children }: { x: number; y: number; anchor?: string; children: string }) {
  return (
    <text x={x} y={y} textAnchor={anchor as any} fontFamily={NOTE_FONT} fontSize={44} fill="#111">
      {children}
    </text>
  );
}

function Arrow({ x1, y1, x2, y2 }: { x1: number; y1: number; x2: number; y2: number }) {
  return <line x1={x1} y1={y1} x2={x2} y2={y2} stroke="#111" strokeWidth={1.4} markerEnd="url(#arrowHead)" />;
}

export default function App() {
  return (
    <div
      style={{
        position: "absolute",
        left: 0,
        top: 0,
        width: 1293,
        height: 1681,
        background: "#fff",
        overflow: "hidden",
      }}
    >
      <div
        style={{
          position: "absolute",
          left: 7,
          top: 7,
          width: 1282,
          height: 1668,
          border: "1px solid #cfcfcf",
          boxSizing: "border-box",
        }}
      />

      {PANELS.map((cfg, i) => (
        <Panel key={i} cfg={cfg} />
      ))}

      <Legend
        labels={FACE_LEGEND}
        colors={[C.infant, C.adult, C.body, C.animal]}
        ys={[539, 583, 629, 674]}
        x1={204}
        x2={266}
        textX={293}
        lineW={4}
      />
      <Legend
        labels={VISUAL_LEGEND}
        colors={[C.checker, C.objects, C.words]}
        ys={[1446, 1490, 1532]}
        x1={292}
        x2={371}
        textX={396}
        lineW={5}
      />

      <svg
        width={1293}
        height={1681}
        style={{ position: "absolute", left: 0, top: 0, pointerEvents: "none" }}
      >
        <defs>
          <marker
            id="arrowHead"
            markerWidth="9"
            markerHeight="8"
            refX="8"
            refY="4"
            orient="auto"
            markerUnits="userSpaceOnUse"
          >
            <path d="M0,0 L9,4 L0,8 z" fill="#111" />
          </marker>
        </defs>

        <Note x={632} y={129} anchor="end">PP010h</Note>
        <Note x={140} y={223}>N170</Note>
        <Arrow x1={169.5} y1={273.5} x2={189} y2={236.5} />

        <Note x={1230} y={133} anchor="end">AFP4h</Note>
        <Note x={817} y={78}>N2</Note>
        <Arrow x1={827} y1={126} x2={846} y2={88} />

        <Note x={603} y={651} anchor="end">Pz</Note>
        <Note x={180} y={1019}>P2</Note>
        <Arrow x1={219} y1={918} x2={204} y2={974} />
        <Note x={305} y={1059}>P300</Note>
        <Arrow x1={320.5} y1={960} x2={336} y2={1015} />

        <Note x={1228} y={651} anchor="end">Fz</Note>
        <Note x={849} y={963}>P300</Note>
        <Arrow x1={919.5} y1={864} x2={903.5} y2={922} />

        <Note x={640} y={1165} anchor="end">Oz</Note>
        <Note x={142} y={1227}>N80</Note>
        <Arrow x1={146.5} y1={1277} x2={167.5} y2={1237} />

        <Note x={1225} y={1165} anchor="end">PPO9h</Note>
        <Note x={750} y={1193}>N170</Note>
        <Arrow x1={770} y1={1242} x2={790} y2={1203} />
      </svg>

      <div
        style={{
          position: "absolute",
          left: 41,
          top: 1592,
          font: "600 14px 'Open Sans', sans-serif",
          lineHeight: "18px",
          color: "#6b6b6b",
          whiteSpace: "nowrap",
        }}
      >
        FIGURE 4
      </div>
      <div
        style={{
          position: "absolute",
          left: 41,
          top: 1615,
          font: "18.3px 'Open Sans', sans-serif",
          lineHeight: "23.5px",
          color: "#5c5c5c",
          whiteSpace: "nowrap",
        }}
      >
        Grand average ERPs recorded at different electrode sites as a function of sensory modality and stimulus
        category. The ERP components act as
        <br />
        reliable markers of semantically distinct perceptual processing, as proved by statistical analyses.
      </div>
    </div>
  );
}
